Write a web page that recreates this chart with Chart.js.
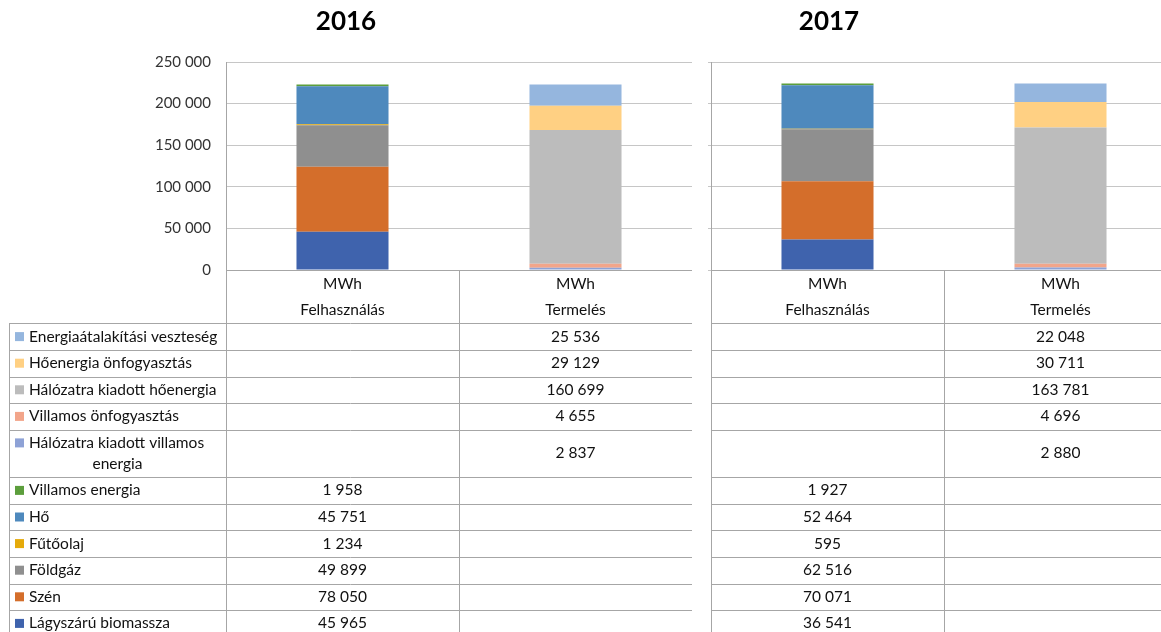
<!DOCTYPE html>
<html>
<head>
<meta charset="utf-8">
<script src="https://cdn.jsdelivr.net/npm/chart.js@4.4.1/dist/chart.umd.min.js"></script>
<style>
  body { margin: 0; overflow: hidden; background: #fff; }
  .box { position: absolute; top: 0; height: 632px; }
</style>
</head>
<body>
<div class="box" style="left:0;width:692px"><canvas id="chart2016"></canvas></div>
<div class="box" style="left:481px;width:696px"><canvas id="chart2017"></canvas></div>
<script>
const categories = ["Felhasználás", "Termelés"];
const unit = "MWh";

// bottom of the stack first
const usageNames = ["Lágyszárú biomassza", "Szén", "Földgáz", "Fűtőolaj", "Hő", "Villamos energia"];
const productionNames = ["Hálózatra kiadott villamos energia", "Villamos önfogyasztás",
    "Hálózatra kiadott hőenergia", "Hőenergia önfogyasztás", "Energiaátalakítási veszteség"];

const usageColors = ["#3f63ad", "#d46e2b", "#8f8f8f", "#e5aa0a", "#4e89bd", "#5c9e3c"];
const productionColors = ["#8ea2d6", "#f2a58a", "#bcbcbc", "#ffd083", "#95b6de"];

const usage2016 = [45965, 78050, 49899, 1234, 45751, 1958];
const production2016 = [2837, 4655, 160699, 29129, 25536];
const usage2017 = [36541, 70071, 62516, 595, 52464, 1927];
const production2017 = [2880, 4696, 163781, 30711, 22048];

const yMax = 250000;
const yStep = 50000;

const fmt = v => String(v).replace(/\B(?=(\d{3})+(?!\d))/g, " ");
const FONT = "Lato, 'Liberation Sans', sans-serif";
const lineColor = "#a6a6a6";

function buildDatasets(usage, production) {
    const sets = [];
    usageNames.forEach((name, i) => {
        sets.push({ label: name, data: [usage[i], null], backgroundColor: usageColors[i] });
    });
    productionNames.forEach((name, i) => {
        sets.push({ label: name, data: [null, production[i]], backgroundColor: productionColors[i] });
    });
    return sets;
}

function wrap(ctx, text, maxW) {
    const words = text.split(" ");
    const lines = [];
    let cur = "";
    words.forEach(w => {
        const test = cur ? cur + " " + w : w;
        if (cur && ctx.measureText(test).width > maxW) {
            lines.push(cur);
            cur = w;
        } else {
            cur = test;
        }
    });
    lines.push(cur);
    return lines;
}

const dataTable = {
    id: "dataTable",
    afterDraw(chart, args, opts) {
        const { ctx, chartArea } = chart;
        const x = chart.scales.x;
        const top = chartArea.bottom;
        const left = chartArea.left;
        const right = chartArea.right;
        const mid = (x.getPixelForValue(0) + x.getPixelForValue(1)) / 2;
        const legLeft = left - opts.legendWidth;
        const rowLeft = opts.showLegend ? legLeft : left;
        const bottom = chart.height + 10;
        const px = v => Math.round(v) + 0.5;

        ctx.save();
        ctx.font = opts.fontSize + "px " + FONT;
        ctx.fillStyle = "#111";
        ctx.textBaseline = "middle";
        ctx.strokeStyle = lineColor;
        ctx.lineWidth = 1;

        const hline = (y, x0, x1) => {
            ctx.beginPath(); ctx.moveTo(x0, px(y)); ctx.lineTo(x1, px(y)); ctx.stroke();
        };
        const vline = (xx, y0, y1) => {
            ctx.beginPath(); ctx.moveTo(px(xx), y0); ctx.lineTo(px(xx), y1); ctx.stroke();
        };

        // header row
        hline(top, left, right);
        ctx.textAlign = "center";
        categories.forEach((c, i) => {
            const cx = x.getPixelForValue(i);
            ctx.fillText(unit, cx, top + 13.5);
            ctx.fillText(c, cx, top + 39.5);
        });

        let y = top + opts.headerHeight;
        const sets = chart.data.datasets;
        for (let d = sets.length - 1; d >= 0; d--) {
            const ds = sets[d];
            const lines = wrap(ctx, ds.label, opts.legendWidth - 22);
            const h = lines.length > 1 ? opts.doubleRow : opts.singleRow;
            hline(y, rowLeft, right);
            const cy = y + h / 2;
            if (opts.showLegend) {
                const ly0 = cy - (lines.length - 1) * 10.5;
                ctx.fillStyle = ds.backgroundColor;
                ctx.fillRect(legLeft + 6, ly0 - 4.5, 9, 9);
                ctx.fillStyle = "#111";
                ctx.textAlign = "left";
                ctx.fillText(lines[0], legLeft + 20, ly0);
                ctx.textAlign = "center";
                for (let k = 1; k < lines.length; k++) {
                    ctx.fillText(lines[k], legLeft + opts.legendWidth / 2, ly0 + k * 21);
                }
            }
            ctx.textAlign = "center";
            ds.data.forEach((v, i) => {
                if (v !== null) ctx.fillText(fmt(v), x.getPixelForValue(i), cy);
            });
            y += h;
        }
        hline(y, rowLeft, right);

        vline(left, top, bottom);
        vline(mid, top, bottom);
        vline(right, top, bottom);
        if (opts.showLegend) vline(legLeft, top + opts.headerHeight, bottom);
        ctx.restore();
    }
};

function makeChart(id, year, usage, production, yAxisWidth, showLabels) {
    return new Chart(id, {
        type: "bar",
        data: { labels: categories, datasets: buildDatasets(usage, production) },
        options: {
            responsive: true,
            maintainAspectRatio: false,
            animation: false,
            layout: { padding: { top: 0, left: 0, right: 0, bottom: 362 } },
            datasets: { bar: { categoryPercentage: 1, barPercentage: 0.395 } },
            scales: {
                x: {
                    stacked: true,
                    ticks: { display: false },
                    grid: { display: false },
                    border: { display: false },
                    afterFit: s => { s.height = 0; }
                },
                y: {
                    stacked: true,
                    min: 0,
                    max: yMax,
                    ticks: {
                        display: showLabels,
                        stepSize: yStep,
                        padding: 15,
                        color: "#333",
                        font: { family: FONT, size: 15 },
                        callback: v => fmt(v)
                    },
                    grid: { color: "#c6c6c6", lineWidth: 1, drawTicks: !showLabels, tickLength: 3 },
                    border: { color: lineColor },
                    afterFit: s => { s.width = yAxisWidth; }
                }
            },
            plugins: {
                legend: { display: false },
                tooltip: { enabled: false },
                title: {
                    display: true,
                    text: year,
                    color: "#000",
                    font: { family: FONT, size: 26, weight: "bold", lineHeight: 1.2 },
                    padding: { top: 6.4, bottom: 24.4 }
                },
                dataTable: {
                    showLegend: showLabels,
                    legendWidth: 217,
                    headerHeight: 53.3,
                    singleRow: 26.6,
                    doubleRow: 47.4,
                    fontSize: 15.5
                }
            }
        },
        plugins: [dataTable]
    });
}

makeChart("chart2016", "2016", usage2016, production2016, 226, true);
makeChart("chart2017", "2017", usage2017, production2017, 230, false);
</script>
</body>
</html>
